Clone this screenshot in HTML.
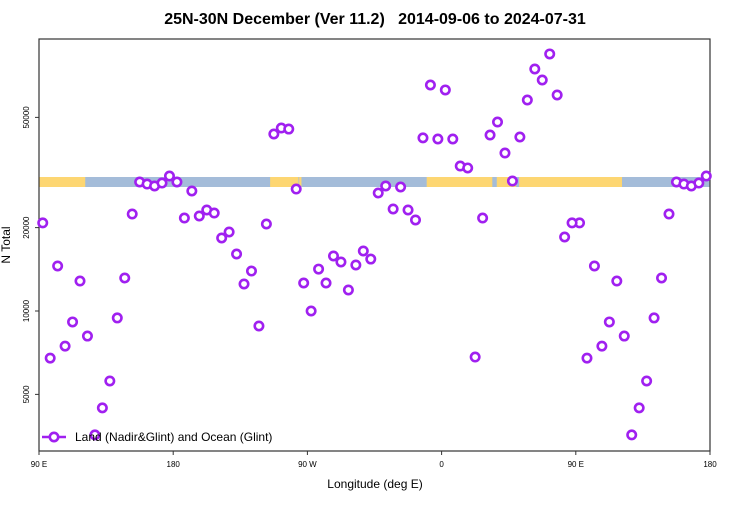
<!DOCTYPE html>
<html><head><meta charset="utf-8"><style>
body{margin:0;background:#fff}
svg{font-family:"Liberation Sans",sans-serif}
</style></head><body>
<svg width="750" height="500" xmlns="http://www.w3.org/2000/svg">
<text x="375" y="24" text-anchor="middle" font-size="16" font-weight="bold" style="white-space:pre">25N-30N December (Ver 11.2)   2014-09-06 to 2024-07-31</text>
<g id="band"></g>
<rect x="39" y="39" width="671" height="412" fill="none" stroke="#333" stroke-width="1.2"/>
<g id="axes"></g>
<g id="pts"></g>
<g>
<line x1="42" y1="437" x2="66" y2="437" stroke="#a020f0" stroke-width="2.5"/>
<circle cx="54" cy="437" r="4.2" fill="#fff" stroke="#a020f0" stroke-width="2.6"/>
<text x="75" y="441" font-size="12">Land (Nadir&amp;Glint) and Ocean (Glint)</text>
</g>
<text x="375" y="488" text-anchor="middle" font-size="12">Longitude (deg E)</text>
<text transform="translate(10,245) rotate(-90)" text-anchor="middle" font-size="12">N Total</text>
</svg>
<script>
const lons=[92.5,97.5,102.5,107.5,112.5,117.5,122.5,127.5,132.5,137.5,142.5,147.5,152.5,157.5,162.5,167.5,172.5,177.5,
-177.5,-172.5,-167.5,-162.5,-157.5,-152.5,-147.5,-142.5,-137.5,-132.5,-127.5,-122.5,-117.5,-112.5,-107.5,-102.5,-97.5,-92.5,
-87.5,-82.5,-77.5,-72.5,-67.5,-62.5,-57.5,-52.5,-47.5,-42.5,-37.5,-32.5,-27.5,-22.5,-17.5,-12.5,-7.5,-2.5,
2.5,7.5,12.5,17.5,22.5,27.5,32.5,37.5,42.5,47.5,52.5,57.5,62.5,67.5,72.5,77.5,82.5,87.5];
const counts=[20800,6760,14540,7470,9130,12830,8120,3570,4470,5590,9440,13160,22390,29220,28730,28270,28970,30710,
29220,21660,27120,22030,23160,22580,18350,19290,16060,12520,13940,8830,20610,43550,45770,45380,27560,12620,
10000,14170,12620,15800,15030,11910,14660,16470,15400,26670,28270,23350,28030,23160,21310,42170,65440,41780,
62810,41780,33370,32840,6820,21660,43180,48110,37180,29460,42480,57770,74770,68230,84720,60240,18500,20800];
const xTickVals=[90,180,270,360,450,540];
const xTickLabels=["90 E","180","90 W","0","90 E","180"];
const yTickVals=[5000,10000,20000,50000];
// land (yellow) intervals along the band, in continuous longitude (90..540)
const landStart=[90,245,264.5,350,397,412];
const landEnd=[121,264,266,394,410,481];

const NS="http://www.w3.org/2000/svg";
const X0=39,X1=710,LON0=90,LON1=540;
const xs=l=>X0+(l-LON0)*(X1-X0)/(LON1-LON0);
const ys=v=>311-277*(Math.log10(v)-4);
function mk(tag,attrs,parent){const e=document.createElementNS(NS,tag);for(const k in attrs)e.setAttribute(k,attrs[k]);parent.appendChild(e);return e;}

const band=document.getElementById('band');
let r=mk('rect',{x:X0,y:177,width:X1-X0,height:10,fill:'#a4bcd9'},band);


for(let i=0;i<landStart.length;i++){
  const a=Math.max(LON0,landStart[i]),b=Math.min(LON1,landEnd[i]);
  const s=mk('rect',{x:xs(a),y:177,width:xs(b)-xs(a),height:10,fill:'#fdd672'},band);
  
  
}

const ax=document.getElementById('axes');
xTickVals.forEach((v,i)=>{
  const l=mk('line',{x1:xs(v),x2:xs(v),y1:451,y2:455,stroke:'#333'},ax);
  
  
  const t=mk('text',{x:xs(v),y:467,'text-anchor':'middle','font-size':8},ax);
  t.textContent=xTickLabels[i];
  
  
});
yTickVals.forEach(v=>{
  const y=ys(v);
  const l=mk('line',{x1:35,x2:39,y1:y,y2:y,stroke:'#333'},ax);
  
  
  const t=mk('text',{transform:`translate(29,${y}) rotate(-90)`,'text-anchor':'middle','font-size':8},ax);
  t.textContent=String(v);
  
  
});

const pts=document.getElementById('pts');
lons.forEach((lon,i)=>{
  let c=lon<90?lon+360:lon;
  [c-360,c,c+360].forEach(L=>{
    if(L<LON0||L>LON1)return;
    const p=mk('circle',{cx:xs(L),cy:ys(counts[i]),r:4.2,fill:'#fff',stroke:'#a020f0','stroke-width':2.6},pts);
    
    
  });
});
</script>
</body></html>
